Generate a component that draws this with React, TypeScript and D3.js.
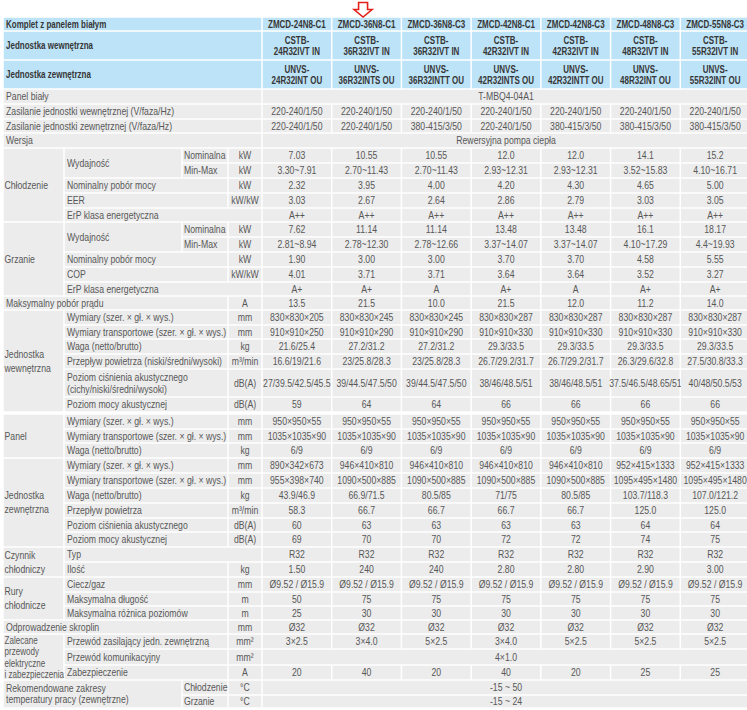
import React from 'react';
import * as d3 from 'd3';

// model columns and header rows
const models = ['ZMCD-24N8-C1', 'ZMCD-36N8-C1', 'ZMCD-36N8-C3', 'ZMCD-42N8-C1', 'ZMCD-42N8-C3', 'ZMCD-48N8-C3', 'ZMCD-55N8-C3'];
const indoorUnits = ['CSTB-\n24R32IVT IN', 'CSTB-\n36R32IVT IN', 'CSTB-\n36R32IVT IN', 'CSTB-\n42R32IVT IN', 'CSTB-\n42R32IVT IN', 'CSTB-\n48R32IVT IN', 'CSTB-\n55R32IVT IN'];
const outdoorUnits = ['UNVS-\n24R32INT OU', 'UNVS-\n36R32INTS OU', 'UNVS-\n36R32INTT OU', 'UNVS-\n42R32INTS OU', 'UNVS-\n42R32INTT OU', 'UNVS-\n48R32INT OU', 'UNVS-\n55R32INT OU'];

// general
const panelModel = 'T-MBQ4-04A1';
const powerIndoor = ['220-240/1/50', '220-240/1/50', '220-240/1/50', '220-240/1/50', '220-240/1/50', '220-240/1/50', '220-240/1/50'];
const powerOutdoor = ['220-240/1/50', '220-240/1/50', '380-415/3/50', '220-240/1/50', '380-415/3/50', '380-415/3/50', '380-415/3/50'];
const version = 'Rewersyjna pompa ciepła';

// cooling
const coolCap = ['7.03', '10.55', '10.55', '12.0', '12.0', '14.1', '15.2'];
const coolRange = ['3.30~7.91', '2.70~11.43', '2.70~11.43', '2.93~12.31', '2.93~12.31', '3.52~15.83', '4.10~16.71'];
const coolPower = ['2.32', '3.95', '4.00', '4.20', '4.30', '4.65', '5.00'];
const eer = ['3.03', '2.67', '2.64', '2.86', '2.79', '3.03', '3.05'];
const coolErp = ['A++', 'A++', 'A++', 'A++', 'A++', 'A++', 'A++'];

// heating
const heatCap = ['7.62', '11.14', '11.14', '13.48', '13.48', '16.1', '18.17'];
const heatRange = ['2.81~8.94', '2.78~12.30', '2.78~12.66', '3.37~14.07', '3.37~14.07', '4.10~17.29', '4.4~19.93'];
const heatPower = ['1.90', '3.00', '3.00', '3.70', '3.70', '4.58', '5.55'];
const cop = ['4.01', '3.71', '3.71', '3.64', '3.64', '3.52', '3.27'];
const heatErp = ['A+', 'A+', 'A', 'A+', 'A', 'A+', 'A+'];

const maxCurrent = ['13.5', '21.5', '10.0', '21.5', '12.0', '11.2', '14.0'];

// indoor unit
const inDim = ['830×830×205', '830×830×245', '830×830×245', '830×830×287', '830×830×287', '830×830×287', '830×830×287'];
const inPack = ['910×910×250', '910×910×290', '910×910×290', '910×910×330', '910×910×330', '910×910×330', '910×910×330'];
const inWeight = ['21.6/25.4', '27.2/31.2', '27.2/31.2', '29.3/33.5', '29.3/33.5', '29.3/33.5', '29.3/33.5'];
const inAir = ['16.6/19/21.6', '23/25.8/28.3', '23/25.8/28.3', '26.7/29.2/31.7', '26.7/29.2/31.7', '26.3/29.6/32.8', '27.5/30.8/33.3'];
const inSpl = ['27/39.5/42.5/45.5', '39/44.5/47.5/50', '39/44.5/47.5/50', '38/46/48.5/51', '38/46/48.5/51', '37.5/46.5/48.65/51', '40/48/50.5/53'];
const inSwl = ['59', '64', '64', '66', '66', '66', '66'];

// panel
const panelDim = ['950×950×55', '950×950×55', '950×950×55', '950×950×55', '950×950×55', '950×950×55', '950×950×55'];
const panelPack = ['1035×1035×90', '1035×1035×90', '1035×1035×90', '1035×1035×90', '1035×1035×90', '1035×1035×90', '1035×1035×90'];
const panelWeight = ['6/9', '6/9', '6/9', '6/9', '6/9', '6/9', '6/9'];

// outdoor unit
const outDim = ['890×342×673', '946×410×810', '946×410×810', '946×410×810', '946×410×810', '952×415×1333', '952×415×1333'];
const outPack = ['955×398×740', '1090×500×885', '1090×500×885', '1090×500×885', '1090×500×885', '1095×495×1480', '1095×495×1480'];
const outWeight = ['43.9/46.9', '66.9/71.5', '80.5/85', '71/75', '80.5/85', '103.7/118.3', '107.0/121.2'];
const outAir = ['58.3', '66.7', '66.7', '66.7', '66.7', '125.0', '125.0'];
const outSpl = ['60', '63', '63', '63', '63', '64', '64'];
const outSwl = ['69', '70', '70', '72', '72', '74', '75'];

// refrigerant, piping, wiring
const refType = ['R32', 'R32', 'R32', 'R32', 'R32', 'R32', 'R32'];
const refCharge = ['1.50', '240', '240', '2.80', '2.80', '2.90', '3.00'];
const pipeSize = ['Ø9.52 / Ø15.9', 'Ø9.52 / Ø15.9', 'Ø9.52 / Ø15.9', 'Ø9.52 / Ø15.9', 'Ø9.52 / Ø15.9', 'Ø9.52 / Ø15.9', 'Ø9.52 / Ø15.9'];
const pipeLength = ['50', '75', '75', '75', '75', '75', '75'];
const pipeHeight = ['25', '30', '30', '30', '30', '30', '30'];
const drain = ['Ø32', 'Ø32', 'Ø32', 'Ø32', 'Ø32', 'Ø32', 'Ø32'];
const powerCable = ['3×2.5', '3×4.0', '5×2.5', '3×4.0', '5×2.5', '5×2.5', '5×2.5'];
const commCable = '4×1.0';
const fuse = ['20', '40', '20', '40', '20', '25', '25'];
const tempCool = '-15 ~ 50';
const tempHeat = '-15 ~ 24';

type Row = {
  h: number;
  g?: string;
  label?: string;
  span?: number;
  sub?: string;
  unit?: string;
  vals?: string[] | string;
  head?: boolean;
};

const G_CH = 'Chłodzenie';
const G_GR = 'Grzanie';
const G_IN = 'Jednostka\nwewnętrzna';
const G_PA = 'Panel';
const G_OUT = 'Jednostka\nzewnętrzna';
const G_REF = 'Czynnik\nchłodniczy';
const G_PIPE = 'Rury\nchłodnicze';
const G_EL = 'Zalecane\nprzewody\nelektryczne\ni zabezpieczenia';

const rows: Row[] = [
  { h: 14, label: 'Komplet z panelem białym', vals: models, head: true },
  { h: 29, label: 'Jednostka wewnętrzna', vals: indoorUnits, head: true },
  { h: 29, label: 'Jednostka zewnętrzna', vals: outdoorUnits, head: true },
  { h: 15, label: 'Panel biały', vals: panelModel },
  { h: 15, label: 'Zasilanie jednostki wewnętrznej (V/faza/Hz)', vals: powerIndoor },
  { h: 14, label: 'Zasilanie jednostki zewnętrznej (V/faza/Hz)', vals: powerOutdoor },
  { h: 15, label: 'Wersja', vals: version },
  { h: 15, g: G_CH, label: 'Wydajność', span: 2, sub: 'Nominalna', unit: 'kW', vals: coolCap },
  { h: 15, g: G_CH, sub: 'Min-Max', unit: 'kW', vals: coolRange },
  { h: 15, g: G_CH, label: 'Nominalny pobór mocy', unit: 'kW', vals: coolPower },
  { h: 15, g: G_CH, label: 'EER', unit: 'kW/kW', vals: eer },
  { h: 14, g: G_CH, label: 'ErP klasa energetyczna', vals: coolErp },
  { h: 15, g: G_GR, label: 'Wydajność', span: 2, sub: 'Nominalna', unit: 'kW', vals: heatCap },
  { h: 15, g: G_GR, sub: 'Min-Max', unit: 'kW', vals: heatRange },
  { h: 15, g: G_GR, label: 'Nominalny pobór mocy', unit: 'kW', vals: heatPower },
  { h: 15, g: G_GR, label: 'COP', unit: 'kW/kW', vals: cop },
  { h: 14, g: G_GR, label: 'ErP klasa energetyczna', vals: heatErp },
  { h: 14, label: 'Maksymalny pobór prądu', unit: 'A', vals: maxCurrent },
  { h: 15, g: G_IN, label: 'Wymiary (szer. × gł. × wys.)', unit: 'mm', vals: inDim },
  { h: 14, g: G_IN, label: 'Wymiary transportowe (szer. × gł. × wys.)', unit: 'mm', vals: inPack },
  { h: 15, g: G_IN, label: 'Waga (netto/brutto)', unit: 'kg', vals: inWeight },
  { h: 15, g: G_IN, label: 'Przepływ powietrza (niski/średni/wysoki)', unit: 'm³/min', vals: inAir },
  { h: 28, g: G_IN, label: 'Poziom ciśnienia akustycznego\n(cichy/niski/średni/wysoki)', unit: 'dB(A)', vals: inSpl },
  { h: 15, g: G_IN, label: 'Poziom mocy akustycznej', unit: 'dB(A)', vals: inSwl },
  { h: 2 },
  { h: 15, g: G_PA, label: 'Wymiary (szer. × gł. × wys.)', unit: 'mm', vals: panelDim },
  { h: 14, g: G_PA, label: 'Wymiary transportowe (szer. × gł. × wys.)', unit: 'mm', vals: panelPack },
  { h: 15, g: G_PA, label: 'Waga (netto/brutto)', unit: 'kg', vals: panelWeight },
  { h: 15, g: G_OUT, label: 'Wymiary (szer. × gł. × wys.)', unit: 'mm', vals: outDim },
  { h: 15, g: G_OUT, label: 'Wymiary transportowe (szer. × gł. × wys.)', unit: 'mm', vals: outPack },
  { h: 15, g: G_OUT, label: 'Waga (netto/brutto)', unit: 'kg', vals: outWeight },
  { h: 15, g: G_OUT, label: 'Przepływ powietrza', unit: 'm³/min', vals: outAir },
  { h: 14, g: G_OUT, label: 'Poziom ciśnienia akustycznego', unit: 'dB(A)', vals: outSpl },
  { h: 15, g: G_OUT, label: 'Poziom mocy akustycznej', unit: 'dB(A)', vals: outSwl },
  { h: 15, g: G_REF, label: 'Typ', vals: refType },
  { h: 15, g: G_REF, label: 'Ilość', unit: 'kg', vals: refCharge },
  { h: 15, g: G_PIPE, label: 'Ciecz/gaz', unit: 'mm', vals: pipeSize },
  { h: 14, g: G_PIPE, label: 'Maksymalna długość', unit: 'm', vals: pipeLength },
  { h: 14, g: G_PIPE, label: 'Maksymalna różnica poziomów', unit: 'm', vals: pipeHeight },
  { h: 14, label: 'Odprowadzenie skroplin', unit: 'mm', vals: drain },
  { h: 15, g: G_EL, label: 'Przewód zasilający jedn. zewnętrzną', unit: 'mm²', vals: powerCable },
  { h: 16, g: G_EL, label: 'Przewód komunikacyjny', unit: 'mm²', vals: commCable },
  { h: 15, g: G_EL, label: 'Zabezpieczenie', unit: 'A', vals: fuse },
  { h: 15, label: 'Rekomendowane zakresy\ntemperatury pracy (zewnętrzne)', span: 2, sub: 'Chłodzenie', unit: '°C', vals: tempCool },
  { h: 13, sub: 'Grzanie', unit: '°C', vals: tempHeat },
];

const W = 747;
const H = 710;
const TOP = 17;
const X0 = 3;
const XG = 64;
const XS = 182;
const XU = 228;
const XV = 262;
const XE = 750;

const BLUE = '#bde3f8';
const GREY = '#ececec';
const TXT = '#585858';
const HEAD_TXT = '#363636';
const FONT = "'Liberation Sans', Arial, sans-serif";

// the source uses a condensed face: squeeze a regular one horizontally
const Lines = ({ x, cy, text, anchor, lh, bold, squeeze }: any) => {
  const parts = String(text).split('\n');
  const size = bold ? 10 : 10.6;
  const sx = squeeze || (bold ? 0.8 : 0.82);
  const y0 = cy - ((parts.length - 1) * lh) / 2 + 3.8;
  return (
    <g transform={`translate(${x},0) scale(${sx},1)`}>
      <text
        x={0}
        textAnchor={anchor}
        fontSize={size}
        fontWeight={bold ? 700 : 400}
        fill={bold ? HEAD_TXT : TXT}
      >
        {parts.map((p, i) => (
          <tspan key={i} x={0} y={y0 + i * lh}>
            {p}
          </tspan>
        ))}
      </text>
    </g>
  );
};

const App = () => {
  const xCol = d3.scaleBand<string>().domain(models).range([XV, XE]).padding(0);

  // row top positions from the cumulative heights
  const tops = d3.cumsum([0, ...rows.map((r) => r.h)]).map((v) => v + TOP);

  // consecutive rows sharing a group label
  const groups: { name: string; from: number; to: number }[] = [];
  rows.forEach((r, i) => {
    if (!r.g) return;
    const last = groups[groups.length - 1];
    if (last && last.name === r.g && last.to === i - 1) last.to = i;
    else groups.push({ name: r.g, from: i, to: i });
  });

  const cells: JSX.Element[] = [];
  const cell = (key: string, x1: number, y1: number, x2: number, y2: number, fill: string) => (
    <rect key={key} x={x1 + 0.75} y={y1 + 0.75} width={x2 - x1 - 1.5} height={y2 - y1 - 1.5} fill={fill} />
  );

  groups.forEach((g, gi) => {
    const y1 = tops[g.from];
    const y2 = tops[g.to + 1];
    const n = g.name.split('\n').length;
    cells.push(
      <g key={`g${gi}`}>
        {cell('r', X0, y1, XG, y2, GREY)}
        <Lines
          x={X0 + 1.5}
          cy={(y1 + y2) / 2}
          text={g.name}
          anchor="start"
          lh={n > 2 ? 11.5 : 14}
          squeeze={n > 2 ? 0.76 : undefined}
        />
      </g>
    );
  });

  rows.forEach((r, i) => {
    if (!r.vals) return;
    const y1 = tops[i];
    const y2 = tops[i + 1];
    const fill = r.head ? BLUE : GREY;
    const lx = r.g ? XG : X0;
    const els: JSX.Element[] = [];

    if (r.label) {
      const lEnd = r.sub ? XS : r.unit !== undefined ? XU : XV;
      const ly2 = tops[i + (r.span || 1)];
      els.push(cell('l', lx, y1, lEnd, ly2, fill));
      els.push(
        <Lines key="lt" x={lx + 3} cy={(y1 + ly2) / 2} text={r.label} anchor="start" lh={r.span ? 11 : 12} bold={r.head} />
      );
    }
    if (r.sub) {
      els.push(cell('s', XS, y1, XU, y2, fill));
      els.push(<Lines key="st" x={XS + 2} cy={(y1 + y2) / 2} text={r.sub} anchor="start" lh={12} />);
    }
    if (r.unit !== undefined) {
      els.push(cell('u', XU, y1, XV, y2, fill));
      els.push(<Lines key="ut" x={(XU + XV) / 2} cy={(y1 + y2) / 2} text={r.unit} anchor="middle" lh={12} />);
    }
    if (typeof r.vals === 'string') {
      els.push(cell('v', XV, y1, XE, y2, fill));
      els.push(<Lines key="vt" x={(XV + XE) / 2} cy={(y1 + y2) / 2} text={r.vals} anchor="middle" lh={11} />);
    } else {
      r.vals.forEach((v, j) => {
        const m = models[j];
        const x1 = xCol(m) as number;
        els.push(cell(`v${j}`, x1, y1, x1 + xCol.bandwidth(), y2, fill));
        els.push(
          <Lines key={`vt${j}`} x={x1 + xCol.bandwidth() / 2} cy={(y1 + y2) / 2} text={v} anchor="middle" lh={11} bold={r.head} />
        );
      });
    }
    cells.push(<g key={`row${i}`}>{els}</g>);
  });

  // red marker arrow above the second model column
  const ax = (xCol(models[1]) as number) + xCol.bandwidth() / 2 - 3.5;
  const arrow = d3.path();
  arrow.moveTo(ax - 4.5, 2.5);
  arrow.lineTo(ax + 4.5, 2.5);
  arrow.lineTo(ax + 4.5, 9.5);
  arrow.lineTo(ax + 9, 9.5);
  arrow.lineTo(ax, 17);
  arrow.lineTo(ax - 9, 9.5);
  arrow.lineTo(ax - 4.5, 9.5);
  arrow.closePath();

  return (
    <svg
      width={W}
      height={H}
      style={{ position: 'absolute', left: 0, top: 0, background: '#fff' }}
      fontFamily={FONT}
    >
      <rect width={W} height={H} fill="#fff" />
      {cells}
      <path d={arrow.toString()} fill="#fff" stroke="#e3211b" strokeWidth={1.6} strokeLinejoin="miter" />
    </svg>
  );
};

export default App;
